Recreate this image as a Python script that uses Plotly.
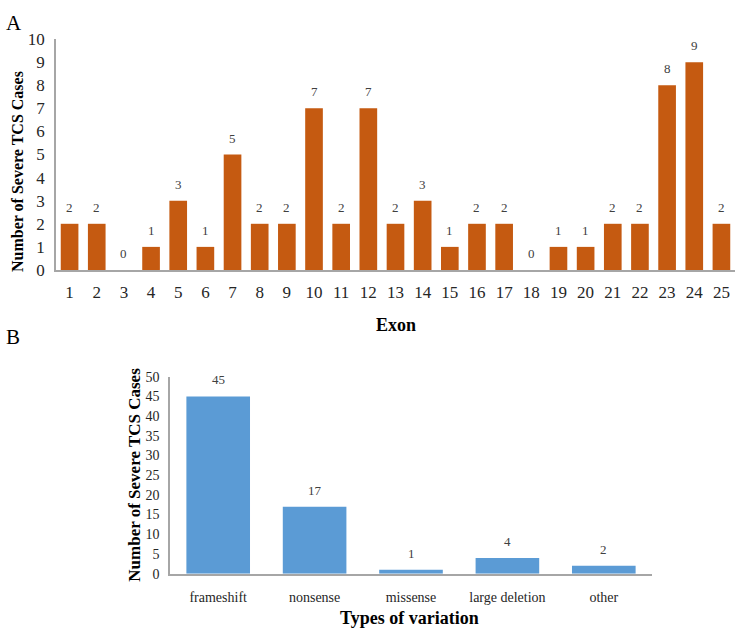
import plotly.graph_objects as go

exons = [str(i) for i in range(1, 26)]
exon_cases = [2, 2, 0, 1, 3, 1, 5, 2, 2, 7, 2, 7, 2, 3, 1, 2, 2, 0, 1, 1, 2, 2, 8, 9, 2]

var_types = ["frameshift", "nonsense", "missense", "large deletion", "other"]
var_cases = [45, 17, 1, 4, 2]

W, H = 744, 637
FONT = "Liberation Serif"
ORANGE = "#C55A11"
BLUE = "#5B9BD5"
AXIS = "#A6A6A6"
TXT = "#262626"
LBL = "#404040"

def px(x):
    return x / W

def py(y):
    return (H - y) / H

fig = go.Figure()
fig.add_trace(go.Bar(x=exons, y=exon_cases, marker=dict(color=ORANGE, line=dict(width=0)),
                     width=0.65, xaxis="x", yaxis="y", showlegend=False, hoverinfo="x+y"))
fig.add_trace(go.Bar(x=var_types, y=var_cases, marker=dict(color=BLUE, line=dict(width=0)),
                     width=0.66, xaxis="x2", yaxis="y2", showlegend=False, hoverinfo="x+y"))

ann = []
for i, (c, v) in enumerate(zip(exons, exon_cases)):
    ann.append(dict(x=i, y=v, xref="x", yref="y", text=str(v), showarrow=False,
                    yanchor="bottom", yshift=7, font=dict(family=FONT, size=13, color=LBL)))
for i, (c, v) in enumerate(zip(var_types, var_cases)):
    ann.append(dict(x=i, y=v, xref="x2", yref="y2", text=str(v), showarrow=False,
                    yanchor="bottom", yshift=7, font=dict(family=FONT, size=13, color=LBL)))

ann += [
    dict(x=px(4), y=py(14), xref="paper", yref="paper", text="A", showarrow=False,
         xanchor="left", yanchor="middle", font=dict(family=FONT, size=21, color="#000")),
    dict(x=px(4), y=py(338), xref="paper", yref="paper", text="B", showarrow=False,
         xanchor="left", yanchor="middle", font=dict(family=FONT, size=21, color="#000")),
    dict(x=px(18), y=py(168), xref="paper", yref="paper", text="<b>Number of Severe TCS Cases</b>",
         showarrow=False, textangle=-90, xanchor="center", yanchor="middle",
         font=dict(family=FONT, size=16, color="#000")),
    dict(x=px(396), y=py(326), xref="paper", yref="paper", text="<b>Exon</b>",
         showarrow=False, xanchor="center", yanchor="middle",
         font=dict(family=FONT, size=18, color="#000")),
    dict(x=px(135), y=py(480), xref="paper", yref="paper", text="<b>Number of Severe TCS Cases</b>",
         showarrow=False, textangle=-90, xanchor="center", yanchor="middle",
         font=dict(family=FONT, size=17, color="#000")),
    dict(x=px(410), y=py(628), xref="paper", yref="paper", text="<b>Types of variation</b>",
         showarrow=False, xanchor="center", yanchor="middle",
         font=dict(family=FONT, size=18, color="#000")),
]

fig.update_layout(
    width=W, height=H,
    margin=dict(l=0, r=0, t=0, b=0),
    paper_bgcolor="white", plot_bgcolor="white",
    bargap=0.35,
    annotations=ann,
    xaxis=dict(type="category", domain=[px(56), px(735)], showline=True, linecolor=AXIS, linewidth=1.5,
               ticks="", showgrid=False, tickfont=dict(family=FONT, size=17, color=TXT),
               anchor="y", ticklabelstandoff=6),
    yaxis=dict(domain=[py(269), py(31)], range=[0, 10], dtick=1, showline=True, linecolor=AXIS,
               linewidth=1.5, ticks="", showgrid=False, zeroline=False,
               tickfont=dict(family=FONT, size=17, color=TXT), anchor="x", ticklabelstandoff=6),
    xaxis2=dict(type="category", domain=[px(170), px(652)], showline=True, linecolor=AXIS, linewidth=1.5,
                ticks="", showgrid=False, tickfont=dict(family=FONT, size=14, color=TXT),
                anchor="y2", ticklabelstandoff=10),
    yaxis2=dict(domain=[py(582), py(379)], range=[0, 50], dtick=5, showline=True, linecolor=AXIS,
                linewidth=1.5, ticks="", showgrid=False, zeroline=False,
                tickfont=dict(family=FONT, size=14, color=TXT), anchor="x2", ticklabelstandoff=6),
)

fig.write_html("out.html")
